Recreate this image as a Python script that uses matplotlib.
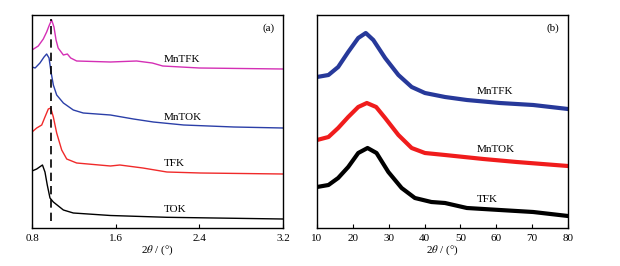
import matplotlib
matplotlib.use("Agg")
import matplotlib.pyplot as plt

plt.rcParams['font.family'] = ['Liberation Serif', 'DejaVu Serif']
plt.rcParams['mathtext.fontset'] = 'stix'

# ---- panel (a): small-angle XRD, intensities in arbitrary offset units ----
a_mntfk_x = [0.80, 0.86, 0.908, 0.94, 0.966, 0.988, 1.01, 1.03, 1.05, 1.10, 1.138, 1.17, 1.227,
             1.55, 1.80, 1.95, 2.05, 2.40, 3.20]
a_mntfk_y = [178, 182, 189, 196, 203, 208, 201, 188, 180, 173, 174, 170, 167,
             166, 167, 165, 162, 160, 159]

a_mntok_x = [0.80, 0.83, 0.876, 0.915, 0.94, 0.963, 0.982, 1.004, 1.036, 1.10, 1.195, 1.29,
             1.55, 1.77, 1.96, 2.25, 2.73, 3.20]
a_mntok_y = [161, 160, 165, 171, 174, 170, 156, 143, 133, 125, 118, 115,
             113, 109, 106, 103, 101, 100]

a_tfk_x = [0.80, 0.845, 0.893, 0.924, 0.956, 0.979, 1.004, 1.036, 1.084, 1.132, 1.227,
           1.55, 1.64, 1.86, 2.09, 2.41, 3.20]
a_tfk_y = [96, 100, 103, 111, 119, 120, 111, 95, 78, 69, 65,
           62, 63, 60, 56, 55, 54]

a_tok_x = [0.80, 0.845, 0.90, 0.924, 0.946, 0.972, 1.004, 1.052, 1.10, 1.195, 1.55, 2.09, 3.20]
a_tok_y = [57, 59, 63, 56, 43, 30, 26, 22, 18, 15, 12.5, 10.7, 9]

# ---- panel (b): wide-angle XRD ----
b_mntfk_x = [10, 13.2, 15.9, 18.7, 21.5, 23.6, 25.7, 29, 32.7, 36.4, 40.1, 45.7, 51.8, 61, 70.3, 80]
b_mntfk_y = [151, 153, 161, 176, 190, 195, 188, 170, 153, 141, 135, 131, 128, 125, 123, 119]

b_mntok_x = [10, 13.2, 15.9, 18.7, 21.5, 23.9, 26.5, 29, 32.7, 36.4, 40.1, 45.7, 56.4, 65.7, 80]
b_mntok_y = [88, 91, 100, 111, 121, 125, 121, 110, 93, 80, 75, 73, 69, 66, 62]

b_tfk_x = [10, 13.2, 15.9, 18.7, 21.5, 24.1, 26.6, 29.9, 33.6, 37.3, 41.9, 45.7, 51.8, 61, 70.3, 80]
b_tfk_y = [41, 43, 50, 61, 75, 80, 75, 56, 40, 30, 26, 25, 20, 18, 16, 12]

a_ticks = [0.8, 1.6, 2.4, 3.2]
b_ticks = [10, 20, 30, 40, 50, 60, 70, 80]

fig = plt.figure(figsize=(6.2, 2.66), dpi=100)
ax1 = fig.add_axes([32 / 620, 1 - 228 / 266, 251 / 620, 213 / 266])
ax2 = fig.add_axes([317 / 620, 1 - 228 / 266, 251 / 620, 213 / 266])

ax1.plot(a_mntfk_x, a_mntfk_y, color='#d42fb5', lw=1.0)
ax1.plot(a_mntok_x, a_mntok_y, color='#2b3fa8', lw=1.0)
ax1.plot(a_tfk_x, a_tfk_y, color='#f02a2a', lw=1.0)
ax1.plot(a_tok_x, a_tok_y, color='black', lw=1.0)
ax1.plot([0.98, 0.98], [7, 209], color='black', lw=1.2, ls=(0, (5, 3)))

fs = 8
ax1.text(2.06, 169, 'MnTFK', fontsize=fs, va='center')
ax1.text(2.06, 111, 'MnTOK', fontsize=fs, va='center')
ax1.text(2.06, 64, 'TFK', fontsize=fs, va='center')
ax1.text(2.06, 18, 'TOK', fontsize=fs, va='center')
ax1.text(3.06, 200, '(a)', fontsize=fs, va='center', ha='center')
ax1.set_xlim(0.8, 3.2)
ax1.set_ylim(0, 213)
ax1.set_xticks(a_ticks)
ax1.set_xticklabels(['0.8', '1.6', '2.4', '3.2'])

ax2.plot(b_mntfk_x, b_mntfk_y, color='#27399a', lw=3.0)
ax2.plot(b_mntok_x, b_mntok_y, color='#f01c1c', lw=3.0)
ax2.plot(b_tfk_x, b_tfk_y, color='black', lw=3.0)
ax2.text(54.5, 137, 'MnTFK', fontsize=fs, va='center')
ax2.text(54.5, 79, 'MnTOK', fontsize=fs, va='center')
ax2.text(54.5, 28, 'TFK', fontsize=fs, va='center')
ax2.text(75.8, 200, '(b)', fontsize=fs, va='center', ha='center')
ax2.set_xlim(10, 80)
ax2.set_ylim(0, 213)
ax2.set_xticks(b_ticks)

for ax in (ax1, ax2):
    ax.set_yticks([])
    ax.tick_params(axis='x', direction='in', length=3, labelsize=fs, pad=4)
    ax.set_xlabel(r'2$\theta$ / (°)', fontsize=fs, labelpad=1)
    for s in ax.spines.values():
        s.set_linewidth(1.0)

fig.savefig('out.png', dpi=100)
